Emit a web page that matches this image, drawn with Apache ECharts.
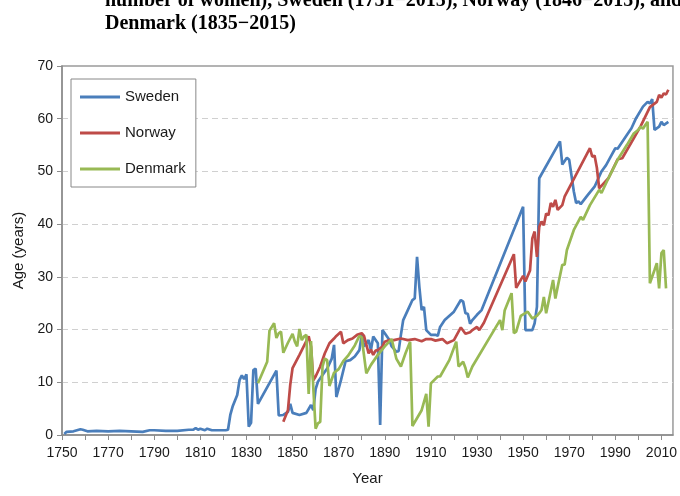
<!DOCTYPE html>
<html>
<head>
<meta charset="utf-8">
<script src="https://cdn.jsdelivr.net/npm/echarts@6/dist/echarts.min.js"></script>
<style>html,body{margin:0;padding:0;background:#fff}#c{width:680px;height:496px}</style>
</head>
<body>
<div id="c"></div>
<script>
const titleLine1 = 'number of women), Sweden (1751\u22122015), Norway (1846\u22122015), and';
const titleLine2 = 'Denmark (1835\u22122015)';
const seriesNames = ['Sweden', 'Norway', 'Denmark'];
const xTickLabels = [1750, 1770, 1790, 1810, 1830, 1850, 1870, 1890, 1910, 1930, 1950, 1970, 1990, 2010];

const swedenYears = [1751,1752,1755,1758,1759,1761,1765,1770,1775,1780,1785,1788,1790,1795,1800,1805,1807,1808,1809,1810,1812,1813,1815,1818,1821,1822,1823,1824,1826,1827,1828,1829,1830,1831,1832,1833,1834,1835,1843,1844,1846,1848,1849,1850,1853,1856,1858,1859,1860,1861,1864,1865,1867,1868,1869,1871,1873,1875,1877,1879,1880,1881,1883,1884,1885,1887,1888,1889,1890,1892,1893,1895,1896,1897,1898,1900,1902,1903,1904,1905,1906,1907,1908,1910,1912,1913,1914,1916,1920,1923,1924,1925,1926,1927,1928,1930,1932,1950,1951,1954,1955,1956,1957,1966,1967,1969,1970,1972,1973,1974,1975,1978,1981,1984,1986,1988,1990,1991,1995,1997,1999,2002,2004,2005,2006,2007,2009,2010,2011,2013];
const swedenAges = [0.2,0.6,0.7,1.1,1.0,0.7,0.8,0.7,0.8,0.7,0.6,0.9,0.9,0.8,0.8,1.0,1.0,1.3,1.0,1.2,0.9,1.2,0.9,0.9,0.9,1.0,3.8,5.4,7.6,10.4,11.3,10.6,11.5,1.6,2.3,12.3,12.6,5.9,12.2,3.7,3.8,4.4,5.9,4.2,3.8,4.2,5.7,4.7,8.7,10.1,12.0,12.6,14.5,17.1,7.2,10.4,14.0,14.2,14.9,16.1,19.0,16.8,18.0,16.1,18.7,17.4,1.9,19.9,19.3,18.0,16.8,15.8,15.9,19.0,21.8,23.7,25.6,25.9,33.8,28.1,23.7,24.3,19.9,19.0,19.0,18.8,20.5,21.8,23.4,25.6,25.3,23.1,23.0,21.1,21.8,22.8,23.7,43.3,19.9,19.9,21.2,24.3,48.7,55.7,51.3,52.6,52.2,46.2,44.0,44.3,43.8,45.5,47.1,50.0,51.2,52.8,54.4,54.3,56.9,58.2,60.1,62.3,63.2,62.9,63.7,57.9,58.5,59.4,58.8,59.4];

const norwayYears = [1846,1848,1849,1850,1853,1857,1858,1859,1860,1862,1864,1866,1868,1869,1871,1872,1874,1876,1878,1880,1881,1883,1884,1885,1886,1887,1889,1890,1892,1894,1897,1900,1903,1906,1908,1910,1912,1915,1917,1920,1923,1925,1927,1928,1930,1931,1933,1946,1947,1950,1951,1953,1954,1955,1956,1957,1958,1959,1960,1961,1962,1963,1964,1965,1967,1968,1979,1980,1981,1982,1983,1987,1991,1993,1998,2001,2005,2008,2009,2010,2011,2012,2013];
const norwayAges = [2.5,4.7,9.5,12.7,15.2,18.7,16.8,10.4,11.1,13.0,15.5,17.4,18.3,18.8,19.6,17.4,18.0,18.3,19.0,19.3,18.8,15.5,16.2,15.2,16.0,16.1,16.8,17.7,18.0,18.0,18.3,18.0,18.2,17.8,18.2,18.2,17.9,18.2,17.4,18.0,20.4,19.2,19.5,19.9,20.5,19.9,21.3,34.3,27.9,30.2,29.1,31.2,37.3,38.6,33.8,39.5,40.5,39.8,42.0,41.7,44.0,43.3,44.6,42.7,43.6,45.2,54.4,52.8,53.0,50.7,46.8,48.7,52.3,52.5,56.3,58.6,62.2,63.2,64.5,64.0,64.8,64.6,65.5];

const denmarkYears = [1835,1839,1840,1842,1843,1844,1845,1846,1848,1850,1851,1852,1853,1854,1855,1856,1857,1858,1859,1860,1861,1862,1863,1864,1865,1866,1868,1870,1872,1874,1877,1879,1880,1882,1884,1887,1890,1893,1895,1897,1899,1901,1902,1906,1908,1909,1910,1913,1914,1918,1921,1922,1924,1925,1926,1928,1940,1941,1942,1945,1946,1947,1949,1952,1954,1956,1957,1958,1959,1960,1963,1964,1965,1967,1968,1969,1972,1975,1976,1979,1983,1984,1987,1991,1995,1998,2000,2001,2002,2003,2004,2005,2007,2008,2009,2010,2011,2012];
const denmarkAges = [9.8,13.9,19.8,21.2,18.4,19.3,19.6,15.6,17.5,19.2,17.7,16.8,20.1,18.0,18.7,19.0,7.8,17.8,9.0,1.2,2.2,2.5,13.0,14.5,14.2,9.3,11.8,12.5,14.0,15.0,17.0,18.8,18.5,11.7,13.3,15.2,16.8,18.2,14.5,13.0,15.5,17.7,1.7,4.7,7.8,1.6,9.8,11.1,11.1,14.2,17.7,13.0,13.9,12.7,10.9,13.0,21.8,19.9,23.6,26.9,19.3,19.6,22.6,23.4,22.1,22.6,23.1,23.7,26.2,23.1,29.4,25.9,28.1,32.3,32.3,35.1,38.9,41.4,40.8,43.6,46.5,45.9,48.7,52.2,55.0,57.2,57.9,58.5,58.1,58.8,59.4,28.8,31.3,32.6,27.8,34.5,35.1,27.8];

const colors = ['#4A7EBB', '#BE4B48', '#98B954'];

function pairs(xs, ys) { return xs.map((x, i) => [x, ys[i]]); }

const chart = echarts.init(document.getElementById('c'), null, { renderer: 'canvas' });
const axisTextColor = '#1a1a1a';
const fam = '"Liberation Sans", Arial, sans-serif';

chart.setOption({
  animation: false,
  backgroundColor: '#fff',
  graphic: [
    { type: 'text', left: 105, top: -9, style: { text: titleLine1, font: 'bold 20px "Liberation Serif", "Times New Roman", serif', fill: '#000' } },
    { type: 'text', left: 105, top: 14, style: { text: titleLine2, font: 'bold 20px "Liberation Serif", "Times New Roman", serif', fill: '#000' } }
  ],
  grid: { left: 62, right: 7, top: 66, bottom: 61, show: true, borderColor: '#9a9a9a', borderWidth: 1.5, backgroundColor: 'transparent' },
  legend: {
    data: seriesNames,
    orient: 'vertical',
    left: 71, top: 79,
    itemWidth: 40, itemHeight: 3,
    itemGap: 20,
    icon: 'rect',
    padding: [10, 10, 10, 9],
    backgroundColor: '#fff',
    borderColor: '#888', borderWidth: 1,
    textStyle: { fontSize: 15, color: axisTextColor, fontFamily: fam, lineHeight: 16 }
  },
  xAxis: {
    type: 'value', min: 1750, max: 2015, interval: 10,
    name: 'Year', nameLocation: 'middle', nameGap: 36,
    nameTextStyle: { fontSize: 15, color: axisTextColor, fontFamily: fam },
    axisLine: { show: true, lineStyle: { color: '#8c8c8c', width: 1.5 } },
    axisTick: { show: true, length: 5, lineStyle: { color: '#8c8c8c', width: 1 } },
    splitLine: { show: false },
    axisLabel: {
      color: axisTextColor, fontSize: 14, fontFamily: fam, margin: 11, showMaxLabel: false,
      formatter: v => (xTickLabels.indexOf(v) >= 0 ? String(v) : '')
    }
  },
  yAxis: {
    type: 'value', min: 0, max: 70, interval: 10,
    name: 'Age (years)', nameLocation: 'middle', nameGap: 36, nameRotate: 90,
    nameTextStyle: { fontSize: 15, color: axisTextColor, fontFamily: fam },
    axisLine: { show: true, lineStyle: { color: '#8c8c8c', width: 1.5 } },
    axisTick: { show: true, length: 5, lineStyle: { color: '#8c8c8c', width: 1 } },
    splitLine: { show: true, showMinLine: false, showMaxLine: false, lineStyle: { color: '#d0d0d0', width: 1, type: [6, 4] } },
    axisLabel: { color: axisTextColor, fontSize: 14, fontFamily: fam, margin: 9 }
  },
  series: [
    { name: seriesNames[0], type: 'line', data: pairs(swedenYears, swedenAges), showSymbol: false, color: colors[0], lineStyle: { width: 2.7, color: colors[0] } },
    { name: seriesNames[1], type: 'line', data: pairs(norwayYears, norwayAges), showSymbol: false, color: colors[1], lineStyle: { width: 2.7, color: colors[1] } },
    { name: seriesNames[2], type: 'line', data: pairs(denmarkYears, denmarkAges), showSymbol: false, color: colors[2], lineStyle: { width: 2.7, color: colors[2] } }
  ]
});
</script>
</body>
</html>
